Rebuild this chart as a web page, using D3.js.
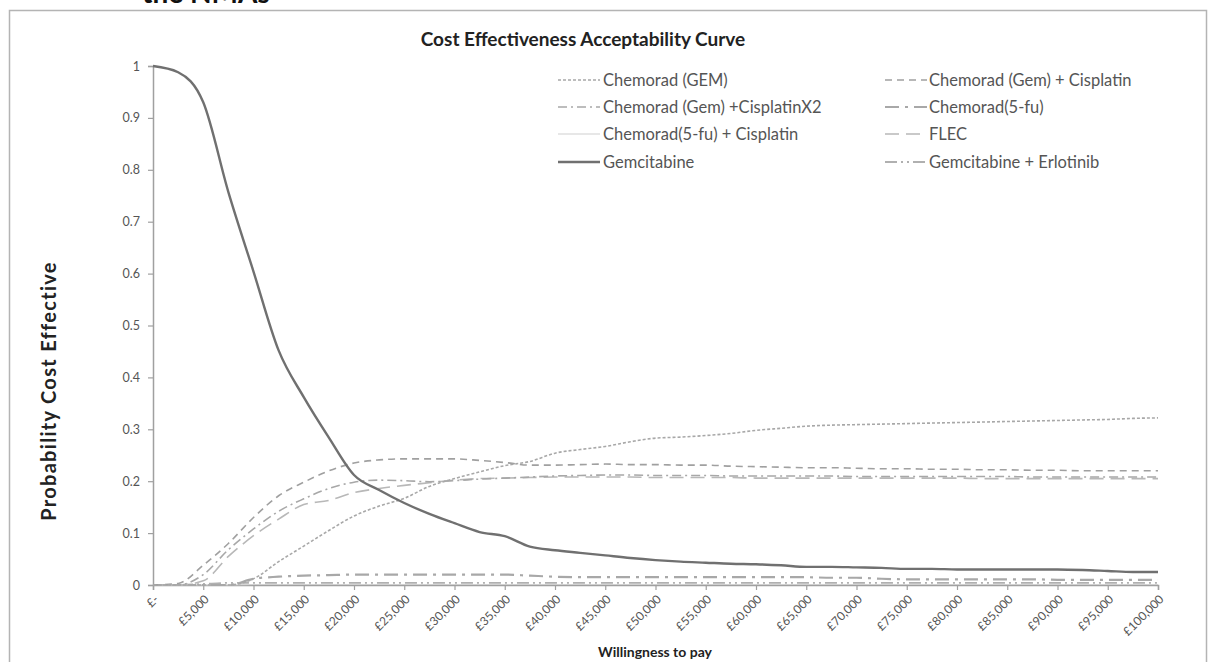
<!DOCTYPE html>
<html>
<head>
<meta charset="utf-8">
<script src="https://cdn.jsdelivr.net/npm/d3@7/dist/d3.min.js"></script>
<style>
  html, body { margin: 0; padding: 0; background: #fff; }
  svg { display: block; }
  text { font-family: Lato, "Open Sans", sans-serif; }
</style>
</head>
<body>
<svg id="chart" width="1213" height="662"></svg>
<script>
// ---------- data ----------
const wtp = [0, 2500, 5000, 7500, 10000, 12500, 15000, 17500, 20000, 22500,
  25000, 27500, 30000, 32500, 35000, 37500, 40000, 42500, 45000, 47500,
  50000, 52500, 55000, 57500, 60000, 62500, 65000, 67500, 70000, 72500,
  75000, 77500, 80000, 82500, 85000, 87500, 90000, 92500, 95000, 97500, 100000];

const chemoradGEM = [0, 0, 0, 0, 0.012, 0.045, 0.075, 0.105, 0.133, 0.152,
  0.167, 0.19, 0.205, 0.218, 0.23, 0.238, 0.254, 0.261, 0.267, 0.276,
  0.283, 0.285, 0.288, 0.292, 0.298, 0.302, 0.306, 0.308, 0.309, 0.31,
  0.311, 0.312, 0.313, 0.314, 0.315, 0.316, 0.317, 0.318, 0.319, 0.321, 0.322];

const chemoradGemCis = [0, 0.003, 0.038, 0.08, 0.13, 0.172, 0.198, 0.22, 0.235, 0.241,
  0.243, 0.243, 0.243, 0.24, 0.236, 0.231, 0.231, 0.232, 0.233, 0.232,
  0.232, 0.231, 0.231, 0.229, 0.228, 0.227, 0.226, 0.226, 0.225, 0.224,
  0.224, 0.223, 0.223, 0.222, 0.222, 0.221, 0.221, 0.22, 0.22, 0.22, 0.22];

const chemoradGemCisX2 = [0, 0, 0.02, 0.068, 0.108, 0.142, 0.166, 0.186, 0.198, 0.202,
  0.201, 0.199, 0.201, 0.204, 0.206, 0.208, 0.21, 0.211, 0.212, 0.212,
  0.211, 0.211, 0.211, 0.21, 0.21, 0.21, 0.21, 0.21, 0.209, 0.209,
  0.209, 0.209, 0.209, 0.209, 0.209, 0.208, 0.208, 0.208, 0.208, 0.208, 0.208];

const chemorad5fu = [0, 0, 0, 0, 0.012, 0.016, 0.018, 0.019, 0.02, 0.02,
  0.02, 0.02, 0.02, 0.02, 0.02, 0.018, 0.016, 0.015, 0.015, 0.015,
  0.015, 0.015, 0.015, 0.015, 0.015, 0.015, 0.015, 0.014, 0.014, 0.012,
  0.011, 0.011, 0.011, 0.011, 0.011, 0.011, 0.01, 0.01, 0.01, 0.01, 0.01];

const chemorad5fuCis = [0, 0, 0, 0, 0.001, 0.001, 0.001, 0.001, 0.001, 0.001,
  0.001, 0.001, 0.001, 0.001, 0.001, 0.001, 0.001, 0.001, 0.001, 0.001,
  0.001, 0.001, 0.001, 0.001, 0.001, 0.001, 0.001, 0.001, 0.001, 0.001,
  0.001, 0.001, 0.001, 0.001, 0.001, 0.001, 0.001, 0.001, 0.001, 0.001, 0.001];

const flec = [0, 0, 0.008, 0.055, 0.095, 0.127, 0.155, 0.163, 0.178, 0.186,
  0.192, 0.197, 0.202, 0.205, 0.206, 0.207, 0.208, 0.208, 0.208, 0.208,
  0.207, 0.207, 0.207, 0.207, 0.206, 0.206, 0.206, 0.206, 0.206, 0.206,
  0.206, 0.206, 0.206, 0.205, 0.205, 0.205, 0.205, 0.205, 0.205, 0.205, 0.205];

const gemcitabine = [1.0, 0.988, 0.93, 0.757, 0.604, 0.452, 0.362, 0.284, 0.212, 0.183,
  0.158, 0.137, 0.119, 0.102, 0.094, 0.074, 0.067, 0.062, 0.057, 0.052,
  0.048, 0.045, 0.043, 0.041, 0.04, 0.038, 0.035, 0.035, 0.034, 0.033,
  0.031, 0.031, 0.03, 0.03, 0.03, 0.03, 0.03, 0.029, 0.027, 0.025, 0.025];

const gemErlotinib = [0, 0, 0.002, 0.004, 0.004, 0.004, 0.004, 0.004, 0.004, 0.004,
  0.004, 0.004, 0.004, 0.004, 0.004, 0.004, 0.004, 0.004, 0.004, 0.004,
  0.004, 0.004, 0.004, 0.004, 0.004, 0.004, 0.004, 0.004, 0.004, 0.004,
  0.004, 0.004, 0.004, 0.004, 0.004, 0.004, 0.004, 0.004, 0.004, 0.004, 0.004];

const yTicks = [0, 0.1, 0.2, 0.3, 0.4, 0.5, 0.6, 0.7, 0.8, 0.9, 1];
const yTickLabels = ["0", "0.1", "0.2", "0.3", "0.4", "0.5", "0.6", "0.7", "0.8", "0.9", "1"];
const xTicks = [0, 5000, 10000, 15000, 20000, 25000, 30000, 35000, 40000, 45000, 50000,
  55000, 60000, 65000, 70000, 75000, 80000, 85000, 90000, 95000, 100000];
const xTickLabels = ["£-", "£5,000", "£10,000", "£15,000", "£20,000", "£25,000", "£30,000",
  "£35,000", "£40,000", "£45,000", "£50,000", "£55,000", "£60,000", "£65,000", "£70,000",
  "£75,000", "£80,000", "£85,000", "£90,000", "£95,000", "£100,000"];

const seriesNames = ["Chemorad (GEM)", "Chemorad (Gem) + Cisplatin", "Chemorad (Gem) +CisplatinX2",
  "Chemorad(5-fu)", "Chemorad(5-fu) + Cisplatin", "FLEC", "Gemcitabine", "Gemcitabine + Erlotinib"];
const seriesValues = [chemoradGEM, chemoradGemCis, chemoradGemCisX2, chemorad5fu,
  chemorad5fuCis, flec, gemcitabine, gemErlotinib];

// ---------- styles ----------
const styles = [
  { color: "#a8a8a8", width: 1.6, dash: "3,2" },
  { color: "#a0a0a0", width: 1.6, dash: "7,5" },
  { color: "#a8a8a8", width: 1.6, dash: "9,4,2,4" },
  { color: "#a8a8a8", width: 2.2, dash: "14,6,3,6" },
  { color: "#d0d0d0", width: 1.2, dash: null },
  { color: "#b8b8b8", width: 1.6, dash: "14,7" },
  { color: "#707070", width: 2.4, dash: null },
  { color: "#b0b0b0", width: 1.8, dash: "12,4,2,4,2,4" }
];

const svg = d3.select("#chart");

// caption fragment above frame
svg.append("text").attr("x", 142).attr("y", 3)
  .attr("font-family", "Liberation Sans, Arial, sans-serif")
  .attr("font-weight", "bold").attr("font-size", 28).attr("fill", "#111")
  .text("the NMAs");

// frame
svg.append("rect").attr("x", 9.5).attr("y", 10.5).attr("width", 1197).attr("height", 700)
  .attr("fill", "#fff").attr("stroke", "#b4b4b4").attr("stroke-width", 1.5);

const x = d3.scaleLinear().domain([0, 100000]).range([153, 1158]);
const y = d3.scaleLinear().domain([0, 1]).range([585, 66]);

// title
svg.append("text").attr("x", 583).attr("y", 46).attr("text-anchor", "middle")
  .attr("font-weight", "bold").attr("font-size", 19).attr("fill", "#222")
  .text("Cost Effectiveness Acceptability Curve");

// y axis
const yAxis = d3.axisLeft(y).tickValues(yTicks).tickSize(5).tickPadding(8)
  .tickFormat((d, i) => yTickLabels[i]);
const gy = svg.append("g").attr("transform", "translate(153,0)").call(yAxis);
gy.select(".domain").attr("stroke", "#a0a0a0").attr("stroke-width", 1.5);
gy.selectAll(".tick line").attr("stroke", "#a0a0a0").attr("stroke-width", 1.2);
gy.selectAll(".tick text").attr("font-family", "Lato, sans-serif").attr("font-size", 12.5)
  .attr("fill", "#555");

// x axis
const xAxis = d3.axisBottom(x).tickValues(xTicks).tickSize(5)
  .tickFormat((d, i) => xTickLabels[i]);
const gx = svg.append("g").attr("transform", "translate(0,585)").call(xAxis);
gx.select(".domain").attr("stroke", "#a0a0a0").attr("stroke-width", 1.5);
gx.selectAll(".tick line").attr("stroke", "#a0a0a0").attr("stroke-width", 1.2);
gx.selectAll(".tick text")
  .attr("font-family", "Lato, sans-serif").attr("font-size", 12).attr("fill", "#555")
  .attr("text-anchor", "end").attr("dy", null).attr("y", null)
  .attr("transform", "translate(6,15) rotate(-45)");

// axis titles
svg.append("text").attr("transform", "translate(56,391) rotate(-90)")
  .attr("text-anchor", "middle").attr("font-weight", "bold").attr("font-size", 20)
  .attr("letter-spacing", 1.3)
  .attr("fill", "#222").text("Probability  Cost Effective");
svg.append("text").attr("x", 655).attr("y", 657).attr("text-anchor", "middle")
  .attr("font-weight", "bold").attr("font-size", 14).attr("fill", "#222")
  .text("Willingness to pay");

// lines
const line = d3.line().x(d => x(d[0])).y(d => y(d[1])).curve(d3.curveMonotoneX);
const drawOrder = [4, 7, 3, 5, 2, 1, 0, 6];
drawOrder.forEach(i => {
  const data = wtp.map((w, k) => [w, seriesValues[i][k]]);
  const p = svg.append("path").datum(data).attr("d", line)
    .attr("fill", "none").attr("stroke", styles[i].color)
    .attr("stroke-width", styles[i].width).attr("stroke-linejoin", "round");
  if (styles[i].dash) p.attr("stroke-dasharray", styles[i].dash);
});

// legend
const legendCols = [{ x0: 558, x1: 600, tx: 603 }, { x0: 885, x1: 927, tx: 929 }];
const legendRows = [80, 107, 134, 162];
seriesNames.forEach((name, i) => {
  const col = legendCols[i % 2];
  const ry = legendRows[Math.floor(i / 2)];
  const l = svg.append("line").attr("x1", col.x0).attr("x2", col.x1)
    .attr("y1", ry).attr("y2", ry)
    .attr("stroke", styles[i].color).attr("stroke-width", styles[i].width);
  if (styles[i].dash) l.attr("stroke-dasharray", styles[i].dash);
  svg.append("text").attr("x", col.tx).attr("y", ry + 5.5)
    .attr("font-size", 16.5).attr("fill", "#555").text(name);
});
</script>
</body>
</html>
